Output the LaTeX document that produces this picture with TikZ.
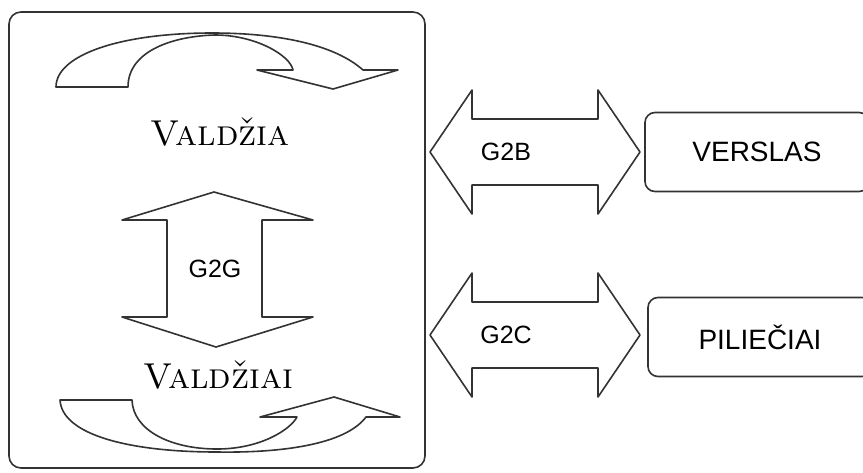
\documentclass[tikz,border=0pt]{standalone}
\usepackage{fontspec}
\newfontfamily\arialfont{Liberation Sans}

\begin{document}
\begin{tikzpicture}[x=0.5pt,y=-0.5pt,line width=.8pt,
    line/.style={draw=black!80,fill=white,line join=round},
    sector/.style={draw=black!80,rounded corners=5pt,minimum width=112pt,minimum height=39.5pt,
      font=\arialfont\fontsize{14}{16}\selectfont},
    tag/.style={font=\arialfont\fontsize{12.5}{14}\selectfont},
    gov/.style={anchor=base,font=\fontsize{18}{20}\selectfont\scshape}]
    \useasboundingbox (0,0) rectangle (863,472);
    \clip (0,0) rectangle (863,472);

    \draw[line,rounded corners=6pt] (9,12) rectangle (425,468);

    % curved arrow over the government
    \draw[line] (56,87) -- (128,87)
        .. controls (128,50) and (175,36) .. (215,35)
        .. controls (255,35) and (290,55) .. (293,70)
        -- (257,70) -- (333,89) -- (398,70) -- (363,70)
        .. controls (335,45) and (280,33) .. (212,33)
        .. controls (120,33) and (56,55) .. (56,87) -- cycle;
    % curved arrow under the governments
    \draw[line] (60,400) -- (132,400)
        .. controls (133,430) and (170,449) .. (217,449)
        .. controls (260,449) and (290,430) .. (297,417)
        -- (260,417) -- (334,397) -- (400,417) -- (366,417)
        .. controls (345,445) and (280,453) .. (217,452)
        .. controls (130,452) and (62,435) .. (60,400) -- cycle;

    % G2G
    \draw[line] (214,192) -- (313,220) -- (262,220) -- (262,317) -- (313,317)
        -- (216,347) -- (122,317) -- (167,317) -- (167,220) -- (122,220) -- cycle;

    \node[gov] (valdzia) at (220,145) {Valdžia};
    \node[gov] (valdziai) at (218,388) {Valdžiai};
    \node[tag] (g2g) at (215,269) {G2G};

    % G2B, G2C
    \foreach \n/\y/\t in {g2b/152/G2B,g2c/335/G2C} {
        \draw[line] (430,\y) -- ++(42,-62) -- ++(0,29) -- ++(126,0) -- ++(0,-29)
            -- ++(42,62) -- ++(-42,62) -- ++(0,-29) -- ++(-126,0) -- ++(0,29) -- cycle;
        \node[tag] (\n) at (506,\y) {\t};
    }

    \node[sector] (verslas) at (757,152) {VERSLAS};
    \node[sector] (pilieciai) at (760,337) {PILIEČIAI};
\end{tikzpicture}
\end{document}
